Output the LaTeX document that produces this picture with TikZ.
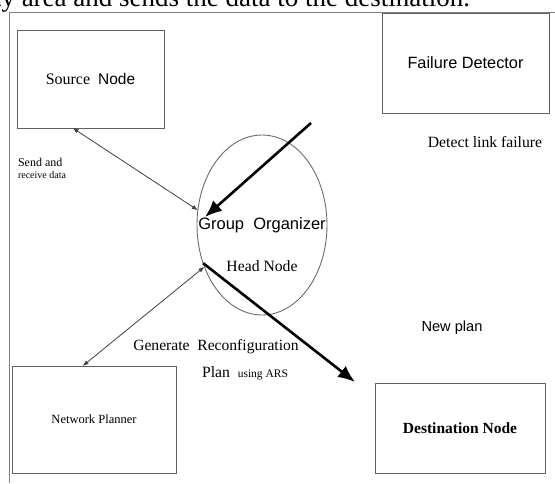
\documentclass[tikz,border=0pt]{standalone}
\usepackage{fontspec}
\setmainfont{Liberation Serif}
\newfontfamily\arialfont{Liberation Sans}
\usepackage{tikz}
\usetikzlibrary{shapes.geometric}
\usetikzlibrary{arrows.meta}
\usetikzlibrary{positioning}
\usetikzlibrary{calc}

\newcommand{\fsz}[1]{\fontsize{#1}{#1}\selectfont}

\begin{document}
\begin{tikzpicture}[x=1pt, y=-1pt,
    box/.style={draw=black!62, line width=0.9pt, rectangle, inner sep=0pt, outer sep=0pt},
    lbl/.style={inner sep=0pt, outer sep=0pt},
    thinarr/.style={draw=black!75, line width=0.8pt, {Latex[length=6pt,width=4.5pt]}-{Latex[length=6pt,width=4.5pt]}},
    thickarr/.style={draw=black, line width=2.6pt, -{Latex[length=17pt,width=14pt]}}]
\useasboundingbox (0,0) rectangle (555,483);

\node[lbl, anchor=base west] (topline) at (-6,6.5) {\fsz{27}ty area and sends the data to the destination.};
\draw [black!50, line width=0.8pt] (555,12.7) -- (9.3,12.7) -- (9.3,483);

\node[box, minimum width=147pt, minimum height=98pt] (src) at (90.5,79)
    {\fsz{16}Source\ \ {\arialfont\fsz{15.5}Node}};
\node[box, minimum width=167pt, minimum height=100pt] (fd) at (465.5,63)
    {\arialfont\fsz{16.3}Failure Detector};
\node[box, minimum width=164pt, minimum height=107pt] (np) at (94,419.5)
    {\fsz{12.5}Network Planner};
\node[box, minimum width=170pt, minimum height=90pt] (dst) at (460,428)
    {\bfseries\fsz{15.5}Destination Node};
\node[draw=black!58, line width=0.9pt, ellipse, inner sep=0pt, outer sep=0pt,
    minimum width=130pt, minimum height=180pt] (go) at (262,225) {};
\node[lbl] (golbl) at (go.center) {\arialfont\fsz{16.5}Group\ \ Organizer};
\node[lbl] (head) at ($(go.center)+(0,41)$) {\fsz{15.7}Head Node};

\node[lbl, anchor=west, align=left] (sendlbl) at (18,168)
    {\fontsize{12}{22}\selectfont Send and\\receive data};
\node[lbl] (detlbl) at (485,142) {\fsz{15.7}Detect link failure};
\node[lbl] (newlbl) at (452,328) {\arialfont\fsz{14.6}New plan};
\node[lbl] (genlbl) at (216,347) {\fsz{15.6}Generate\ \ Reconfiguration};
\node[lbl] (planlbl) at (245,373) {\fsz{15.7}Plan\ \ {\fsz{11.5}using ARS}};

\coordinate (fail) at (311,123);
\coordinate (plan) at (355,382);
\draw [thinarr] (src.250) -- (go.167);
\draw [thinarr] (go.216) -- (np.102);
\draw [thickarr] (fail) -- ([shift={(8pt,8pt)}]go.west);
\draw [thickarr] (go.213) -- (plan);
\end{tikzpicture}
\end{document}
